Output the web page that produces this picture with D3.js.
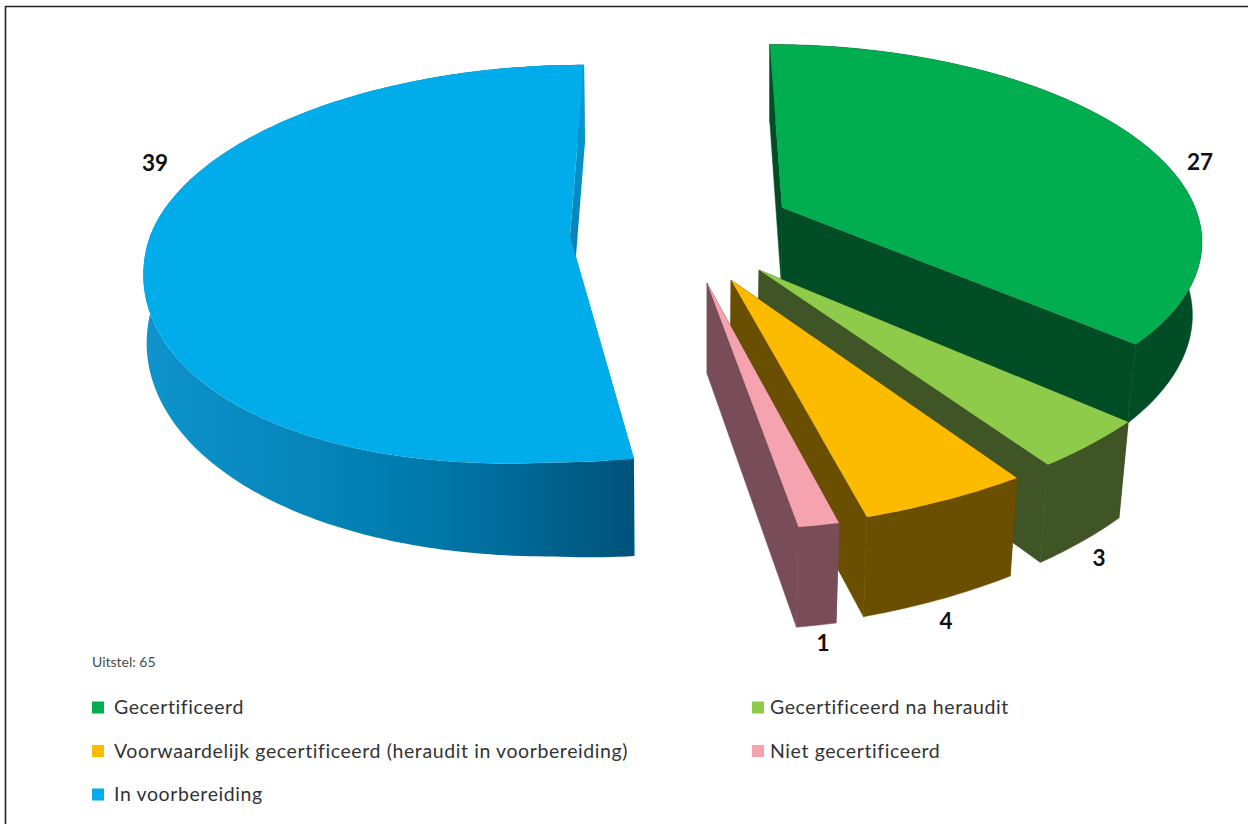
<!DOCTYPE html>
<html>
<head>
<meta charset="utf-8">
<script src="https://cdnjs.cloudflare.com/ajax/libs/d3/7.8.5/d3.min.js"></script>
<style>
  html, body { margin: 0; padding: 0; background: #fff; }
  svg { display: block; }
  text { font-family: Lato, "Open Sans", sans-serif; }
</style>
</head>
<body>
<script>
const categories = [
  "Gecertificeerd",
  "Gecertificeerd na heraudit",
  "Voorwaardelijk gecertificeerd (heraudit in voorbereiding)",
  "Niet gecertificeerd",
  "In voorbereiding"
];
const counts = [27, 3, 4, 1, 39];
const topColors = ["#00ad4f", "#8fcb4a", "#fdbb00", "#f5a3ae", "#00acea"];
const wallColors = ["#004d26", "#3f5525", "#6b4f00", "#784d58", "#0a84bb"];
const postponedNote = "Uitstel: 65";

// each exploded slice sits on its own tilted plane
const frames = [
  { ax: 782, ay: 207.5, R: 413, lean: 14, p: 0.147, ry: 187, tilt: 0, falloff: 0.028, anchor: 770, slant: 0.022, label: [1200, 162] },
  { ax: 759, ay: 270, R: 456.6, lean: 40, p: 0, ry: 249.6, tilt: -25.9, falloff: 0, anchor: 707, slant: 0.022, label: [1099, 558] },
  { ax: 731, ay: 280, R: 492.5, lean: 12.3, p: 0, ry: 249.8, tilt: -19.4, falloff: 0, anchor: 707, slant: 0.022, label: [946, 621] },
  { ax: 707, ay: 283, R: 490, lean: 8.8, p: 0, ry: 246.8, tilt: 5, falloff: 0, anchor: 707, slant: 0.022, label: [823, 643] },
  { ax: 570, ay: 236, R: 420, lean: -16, p: 0.139, ry: 195, tilt: -20, leftTiltOnly: true, falloff: 0.045, anchor: 700, slant: 0.006, label: [155, 163] }
];

const w = 1248;
const h = 824;

const svg = d3.select("body")
  .append("svg")
  .attr("width", w)
  .attr("height", h)
  .attr("viewBox", `0 0 ${w} ${h}`);

svg.append("rect")
  .attr("width", w)
  .attr("height", h)
  .attr("fill", "#fff");

const defs = svg.append("defs");
const blueWall = defs.append("linearGradient")
  .attr("id", "blue-wall")
  .attr("gradientUnits", "userSpaceOnUse")
  .attr("x1", 150).attr("x2", 634)
  .attr("y1", 0).attr("y2", 0);
[[0, "#0e93cc"], [0.45, "#0280b3"], [0.7, "#006f9f"], [0.85, "#005f8a"], [1, "#00537a"]]
  .forEach(s => blueWall.append("stop").attr("offset", s[0]).attr("stop-color", s[1]));

const blueCut = defs.append("linearGradient")
  .attr("id", "blue-cut")
  .attr("gradientUnits", "userSpaceOnUse")
  .attr("x1", 0).attr("x2", 0)
  .attr("y1", 64).attr("y2", 250);
[[0, "#03a3de"], [1, "#0a7fb6"]]
  .forEach(s => blueCut.append("stop").attr("offset", s[0]).attr("stop-color", s[1]));

// frame outline, open on the right and at the bottom
svg.append("path")
  .attr("d", d3.line()([[5.5, h], [5.5, 6.5], [w, 6.5]]))
  .attr("fill", "none")
  .attr("stroke", "#222")
  .attr("stroke-width", 1.6);

const pie = d3.pie()
  .sort(null)
  .value(d => d)
  .startAngle(0)
  .endAngle(2 * Math.PI);

const arcs = pie(counts);

// unit circle -> screen, angle runs clockwise from the back of the pie
const project = (f, angle) => {
  const u = Math.sin(angle);
  const v = -Math.cos(angle);
  const k = 1 - f.p * v;
  const tilt = v > 0 ? f.tilt * (f.leftTiltOnly ? Math.min(u, 0) : u) * v : 0;
  return [f.ax + (f.R * u + f.lean * v) / k, f.ay + (f.ry * v + tilt) / k];
};

// same point on the underside of the slab
const drop = (f, pt) => {
  const x = pt[0];
  const y = pt[1];
  return [x + (f.anchor - x) * f.slant, y + 79.5 + 0.039 * y - f.falloff * Math.abs(x - 632)];
};

const line = d3.line();

const rim = (f, a0, a1) => {
  const n = Math.max(2, Math.ceil(Math.abs(a1 - a0) * 60));
  return d3.range(n + 1).map(i => project(f, a0 + (a1 - a0) * i / n));
};

const slices = svg.selectAll("g.slice")
  .data(arcs)
  .enter()
  .append("g")
  .attr("class", "slice");

slices.each(function(d, i) {
  const g = d3.select(this);
  const f = frames[i];
  const apex = [f.ax, f.ay];
  const edge = rim(f, d.startAngle, d.endAngle);
  const ends = [edge[0], edge[edge.length - 1]].sort((a, b) => a[1] - b[1]);
  const backEnd = ends[0];
  const frontEnd = ends[1];
  const wallFill = wallColors[i];

  const cutFace = end => {
    const quad = [apex, end, drop(f, end), drop(f, apex)];
    g.append("path")
      .attr("d", line(quad) + "Z")
      .attr("fill", i === 4 ? "url(#blue-cut)" : wallFill)
      .attr("stroke", i === 4 ? "none" : wallFill)
      .attr("stroke-width", 0.5);
  };

  cutFace(frontEnd);

  // curved outer wall
  const outer = edge.concat(edge.map(p => drop(f, p)).reverse());
  g.append("path")
    .attr("d", line(outer) + "Z")
    .attr("fill", i === 4 ? "url(#blue-wall)" : wallFill)
    .attr("stroke", i === 4 ? "none" : wallFill)
    .attr("stroke-width", 0.5);

  cutFace(backEnd);

  // top face
  g.append("path")
    .attr("d", line([apex].concat(edge)) + "Z")
    .attr("fill", topColors[i]);
});

// value labels
svg.selectAll("text.value")
  .data(counts)
  .enter()
  .append("text")
  .attr("class", "value")
  .attr("x", (d, i) => frames[i].label[0])
  .attr("y", (d, i) => frames[i].label[1])
  .attr("dy", "0.36em")
  .attr("text-anchor", "middle")
  .attr("font-size", 22.5)
  .attr("font-weight", 700)
  .attr("fill", "#111")
  .text(d => d);

svg.append("text")
  .attr("x", 92)
  .attr("y", 667)
  .attr("font-size", 14)
  .attr("fill", "#4a4a4a")
  .text(postponedNote);

// legend, two columns
const columnX = d3.scaleOrdinal().domain([0, 1]).range([92, 752]);
const textX = d3.scaleOrdinal().domain([0, 1]).range([22, 18]);
const rowY = d3.scaleLinear().domain([0, 2]).range([707.5, 794.5]);

const legend = svg.selectAll("g.legend-item")
  .data(categories)
  .enter()
  .append("g")
  .attr("class", "legend-item")
  .attr("transform", (d, i) => `translate(${columnX(i % 2)},${rowY(Math.floor(i / 2))})`);

legend.append("rect")
  .attr("x", 0)
  .attr("y", -6)
  .attr("width", 12)
  .attr("height", 12)
  .attr("fill", (d, i) => topColors[i]);

legend.append("text")
  .attr("x", (d, i) => textX(i % 2))
  .attr("y", 0)
  .attr("dy", "0.34em")
  .attr("font-size", 19.5)
  .attr("letter-spacing", 0.6)
  .attr("fill", "#333")
  .text(d => d);
</script>
</body>
</html>
